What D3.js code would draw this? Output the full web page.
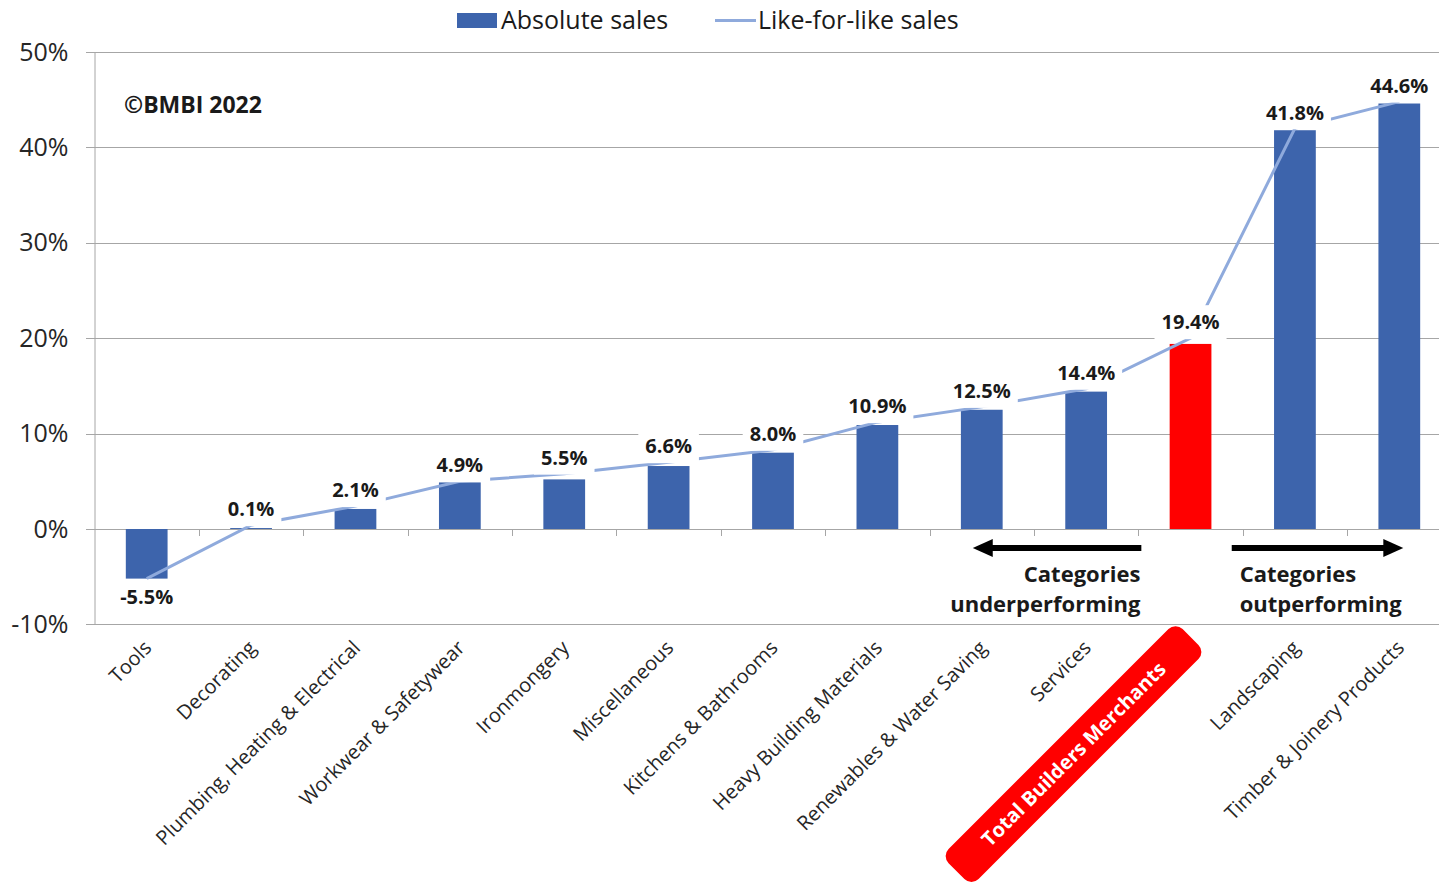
<!DOCTYPE html>
<html>
<head>
<meta charset="utf-8">
<script src="https://cdn.jsdelivr.net/npm/d3@7"></script>
<style>
  html, body { margin: 0; padding: 0; background: #fff; }
  svg { display: block; font-family: "Open Sans", "Noto Sans", sans-serif; }
</style>
</head>
<body>
<svg id="chart" width="1439" height="884"></svg>
<script>
const categories = ["Tools", "Decorating", "Plumbing, Heating & Electrical", "Workwear & Safetywear",
  "Ironmongery", "Miscellaneous", "Kitchens & Bathrooms", "Heavy Building Materials",
  "Renewables & Water Saving", "Services", "Total Builders Merchants", "Landscaping",
  "Timber & Joinery Products"];
const absoluteSales = [-5.2, 0.1, 2.1, 4.9, 5.2, 6.6, 8.0, 10.9, 12.5, 14.4, 19.4, 41.8, 44.6];
const likeForLikeSales = [-5.2, 0.4, 2.4, 5.0, 5.8, 7.0, 8.3, 11.2, 12.8, 14.7, 20.0, 42.0, 44.8];
const dataLabels = ["-5.5%", "0.1%", "2.1%", "4.9%", "5.5%", "6.6%", "8.0%", "10.9%", "12.5%",
  "14.4%", "19.4%", "41.8%", "44.6%"];
const yTicks = [-10, 0, 10, 20, 30, 40, 50];
const highlight = "Total Builders Merchants";
const legendItems = ["Absolute sales", "Like-for-like sales"];

const BAR = "#3D64AC", LINE = "#8FAADC", RED = "#FF0000", GRID = "#A6A6A6", TEXT = "#1A1A1A";

const svg = d3.select("#chart");
const x = d3.scaleBand().domain(categories).range([94.5, 1451.5]).padding(0);
const y = d3.scaleLinear().domain([-10, 50]).range([624.4, 52]);
const cx = c => x(c) + x.bandwidth() / 2;

// gridlines
svg.append("g").selectAll("line").data(yTicks).join("line")
  .attr("x1", 86).attr("x2", 1452)
  .attr("y1", d => Math.round(y(d)) + 0.5).attr("y2", d => Math.round(y(d)) + 0.5)
  .attr("stroke", GRID).attr("stroke-width", 1);

// y axis
const yAxis = d3.axisLeft(y).tickValues(yTicks).tickFormat(d => d + "%").tickSize(0).tickPadding(26);
const yg = svg.append("g").attr("transform", "translate(94.5,0)").call(yAxis);
yg.select(".domain").attr("stroke", GRID);
yg.selectAll("text").attr("font-size", 25).attr("fill", "#262626")
  .attr("font-family", "'Open Sans', sans-serif");

// category boundary ticks on zero line
const bounds = categories.map(c => x(c)).concat([x(categories[categories.length - 1]) + x.bandwidth()]);
svg.append("g").selectAll("line").data(bounds.slice(1)).join("line")
  .attr("x1", d => Math.round(d) + 0.5).attr("x2", d => Math.round(d) + 0.5)
  .attr("y1", Math.round(y(0))).attr("y2", Math.round(y(0)) + 7)
  .attr("stroke", GRID);

// bars
const barW = x.bandwidth() * 0.4;
svg.append("g").selectAll("rect").data(categories).join("rect")
  .attr("x", (c) => cx(c) - barW / 2)
  .attr("width", barW)
  .attr("y", (c, i) => y(Math.max(0, absoluteSales[i])))
  .attr("height", (c, i) => Math.abs(y(absoluteSales[i]) - y(0)))
  .attr("fill", c => c === highlight ? RED : BAR);

// like-for-like line
const line = d3.line().x((d, i) => cx(categories[i])).y(d => y(d));
svg.append("path").datum(likeForLikeSales).attr("d", line)
  .attr("fill", "none").attr("stroke", LINE).attr("stroke-width", 3);

// data labels with white background
const lg = svg.append("g");
categories.forEach((c, i) => {
  const a = absoluteSales[i], l = likeForLikeSales[i];
  const yc = a < 0 ? y(a) + 18 : Math.min(y(a) - 17, y(l) - 16);
  const g = lg.append("g").attr("transform", `translate(${cx(c)},${yc})`);
  const t = g.append("text").attr("text-anchor", "middle").attr("dy", "0.36em")
    .attr("font-size", 20).attr("font-weight", 700).attr("fill", TEXT).text(dataLabels[i]);
  const w = t.node().getComputedTextLength();
  g.insert("rect", "text").attr("x", -w / 2 - 7).attr("y", -17).attr("width", w + 14).attr("height", 34)
    .attr("fill", "#fff");
});

// category labels
const cg = svg.append("g");
categories.forEach(c => {
  if (c === highlight) {
    const g = cg.append("g").attr("transform", `translate(${cx(c)},637) rotate(-45)`);
    g.append("rect").attr("x", -331).attr("y", -21.2).attr("width", 331).attr("height", 42.4)
      .attr("rx", 10).attr("fill", RED);
    g.append("text").attr("x", -165.5).attr("dy", "0.36em").attr("text-anchor", "middle")
      .attr("font-size", 20).attr("font-weight", 700).attr("fill", "#fff").text(c);
  } else {
    cg.append("text").attr("transform", `translate(${cx(c) + 1},644) rotate(-45)`)
      .attr("text-anchor", "end").attr("dy", "0.36em")
      .attr("font-size", 20).attr("fill", "#262626").text(c);
  }
});

// legend
const leg = svg.append("g");
leg.append("rect").attr("x", 457).attr("y", 13).attr("width", 40).attr("height", 15).attr("fill", BAR);
leg.append("text").attr("x", 501).attr("y", 20).attr("dy", "0.36em").attr("font-size", 25)
  .attr("fill", TEXT).text(legendItems[0]);
leg.append("line").attr("x1", 715).attr("x2", 756).attr("y1", 20.5).attr("y2", 20.5)
  .attr("stroke", LINE).attr("stroke-width", 3);
leg.append("text").attr("x", 758).attr("y", 20).attr("dy", "0.36em").attr("font-size", 25)
  .attr("fill", TEXT).text(legendItems[1]);

// copyright
svg.append("text").attr("x", 124).attr("y", 113).attr("font-size", 23).attr("font-weight", 700)
  .attr("fill", TEXT).text("©BMBI 2022");

// arrows & annotations
const ay = 548;
function arrow(x1, x2) {
  const dir = Math.sign(x2 - x1);
  svg.append("line").attr("x1", x1).attr("x2", x2 - dir * 16).attr("y1", ay).attr("y2", ay)
    .attr("stroke", "#000").attr("stroke-width", 6);
  svg.append("path").attr("d", `M${x2},${ay} L${x2 - dir * 20},${ay - 9} L${x2 - dir * 20},${ay + 9} Z`)
    .attr("fill", "#000");
}
const bUnder = x(highlight), bOver = x(highlight) + x.bandwidth();
arrow(bUnder + 3, cx("Renewables & Water Saving") - 9);
arrow(bOver - 11, cx("Timber & Joinery Products") + 4);

function note(xp, anchor, lines) {
  lines.forEach((s, k) => svg.append("text").attr("x", xp).attr("y", 582 + k * 30)
    .attr("text-anchor", anchor).attr("font-size", 22).attr("font-weight", 700).attr("fill", TEXT).text(s));
}
note(bUnder + 2, "end", ["Categories", "underperforming"]);
note(bOver - 3, "start", ["Categories", "outperforming"]);
</script>
</body>
</html>
